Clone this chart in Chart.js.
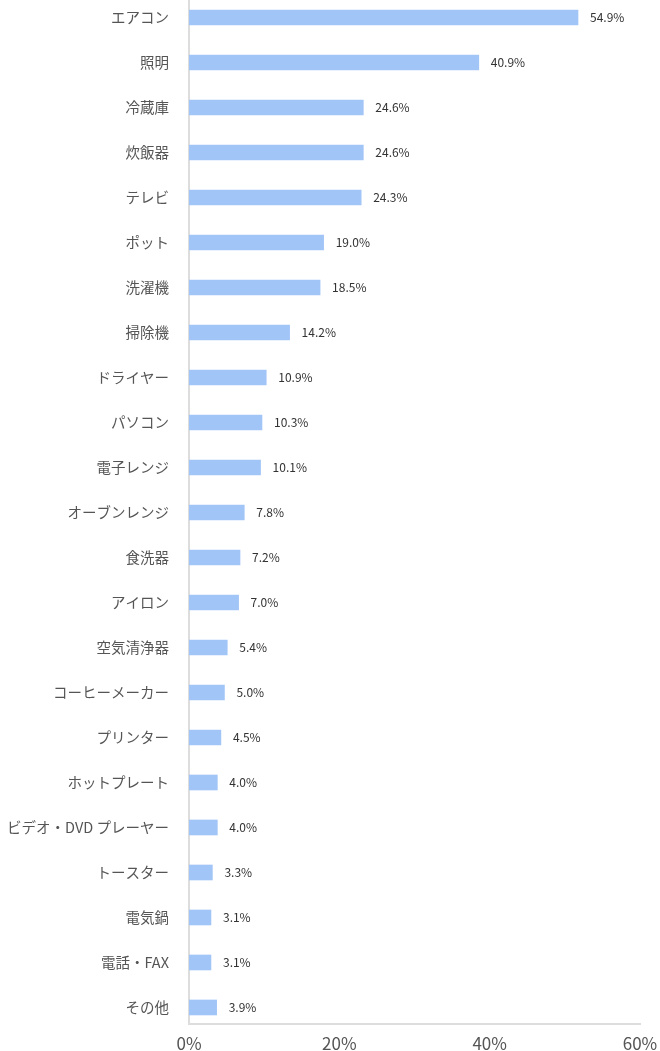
<!DOCTYPE html>
<html lang="ja">
<head>
<meta charset="utf-8">
<script src="https://cdn.jsdelivr.net/npm/chart.js@4.4.1/dist/chart.umd.min.js"></script>
<style>
    html, body { margin: 0; padding: 0; background: #fff; }
    #wrap { position: relative; width: 660px; height: 1051px; }
</style>
</head>
<body>
<div id="wrap"><canvas id="usoChart"></canvas></div>
<script>
// 項目
const categories = [
    'エアコン', '照明', '冷蔵庫', '炊飯器', 'テレビ', 'ポット', '洗濯機', '掃除機',
    'ドライヤー', 'パソコン', '電子レンジ', 'オーブンレンジ', '食洗器', 'アイロン',
    '空気清浄器', 'コーヒーメーカー', 'プリンター', 'ホットプレート',
    'ビデオ・DVD プレーヤー', 'トースター', '電気鍋', '電話・FAX', 'その他'
];
// 割合 (%)
const percents = [
    54.9, 40.9, 24.6, 24.6, 24.3, 19.0, 18.5, 14.2,
    10.9, 10.3, 10.1, 7.8, 7.2, 7.0,
    5.4, 5.0, 4.5, 4.0,
    4.0, 3.3, 3.1, 3.1, 3.9
];
// 目盛り
const xTicks = [0, 20, 40, 60];

const FONT = '"Noto Sans CJK JP", "Noto Sans", sans-serif';

// バーの右に数値を表示
const valueLabels = {
    id: 'valueLabels',
    afterDatasetsDraw(chart) {
        const ctx = chart.ctx;
        const meta = chart.getDatasetMeta(0);
        ctx.save();
        ctx.font = '12px ' + FONT;
        ctx.fillStyle = '#333';
        ctx.textAlign = 'left';
        ctx.textBaseline = 'middle';
        meta.data.forEach((bar, i) => {
            ctx.fillText(percents[i].toFixed(1) + '%', bar.x + 12, bar.y);
        });
        ctx.restore();
    }
};

const ctx = document.getElementById('usoChart').getContext('2d');
const usoChart = new Chart(ctx, {
    type: 'bar',
    data: {
        datasets: [{
            data: percents.map((v, i) => ({ x: v, y: i })),
            xAxisID: 'xb',
            yAxisID: 'y',
            backgroundColor: '#a2c5f8',
            borderWidth: 0,
            barThickness: 15
        }]
    },
    options: {
        indexAxis: 'y',
        responsive: true,
        maintainAspectRatio: false,
        animation: false,
        layout: { padding: 0 },
        plugins: {
            legend: { display: false },
            tooltip: { enabled: false }
        },
        scales: {
            // 表示用の目盛り
            x: {
                type: 'linear',
                position: 'bottom',
                min: 0,
                max: 60,
                afterBuildTicks: s => { s.ticks = xTicks.map(v => ({ value: v })); },
                afterFit: s => {
                    s.height = 27;
                    s.paddingRight = 20;
                },
                ticks: {
                    callback: v => v + '%',
                    color: '#555',
                    padding: 9,
                    font: { size: 17, family: FONT }
                },
                grid: { display: false, drawTicks: false },
                border: { display: true, color: '#ddd', width: 2 }
            },
            // 元の図ではバーの長さが目盛りより少し短い
            xb: {
                type: 'linear',
                display: false,
                position: 'bottom',
                min: 0,
                max: 63.65
            },
            y: {
                type: 'linear',
                reverse: true,
                offset: false,
                bounds: 'data',
                min: -0.389,
                max: 22.367,
                afterBuildTicks: s => { s.ticks = categories.map((c, i) => ({ value: i })); },
                afterFit: s => {
                    s.width = 189;
                    s.paddingTop = 0;
                    s.paddingBottom = 0;
                },
                ticks: {
                    autoSkip: false,
                    callback: v => categories[v],
                    color: '#555',
                    padding: 20,
                    font: { size: 14.5, family: FONT }
                },
                grid: { display: false, drawTicks: false, offset: false },
                border: { display: true, color: '#ddd', width: 2 }
            }
        }
    },
    plugins: [valueLabels]
});
</script>
</body>
</html>
